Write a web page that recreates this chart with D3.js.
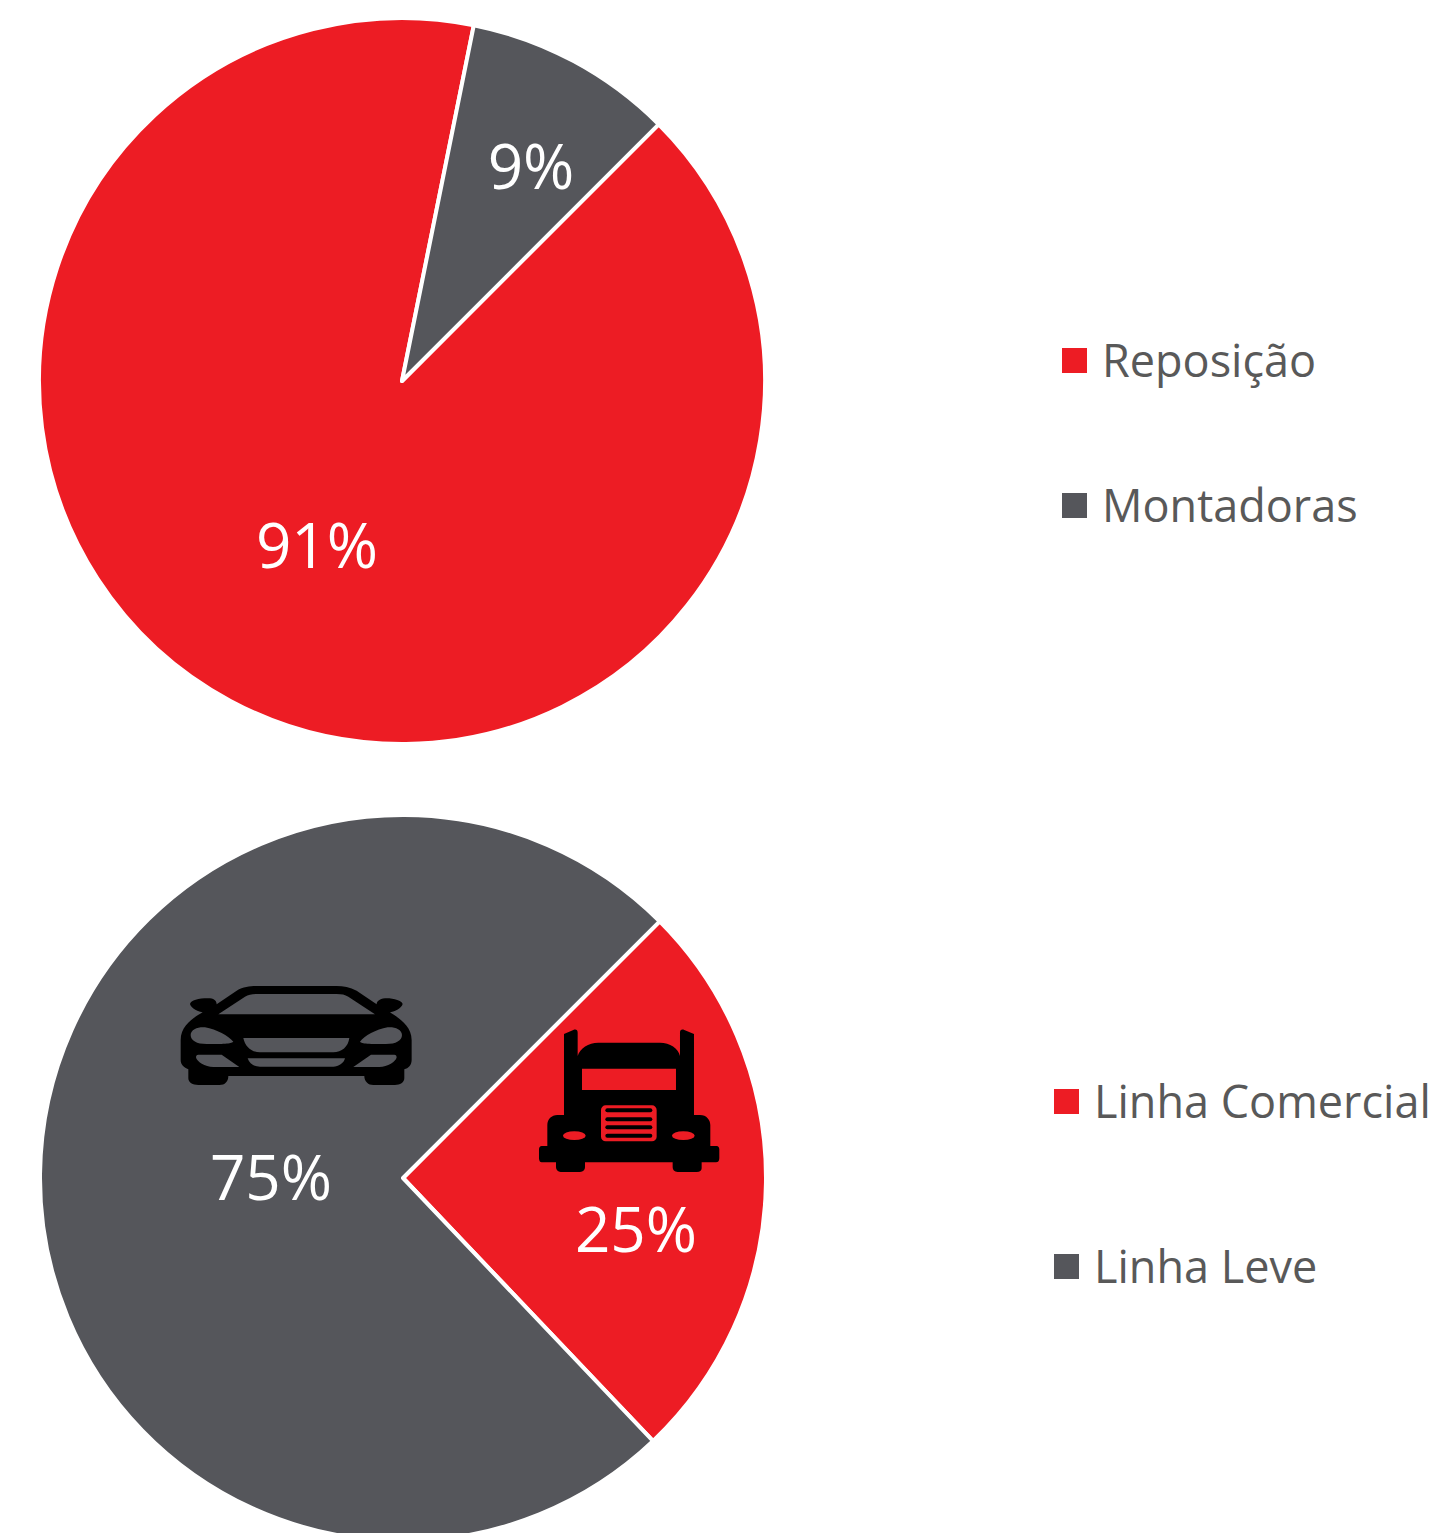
<!DOCTYPE html>
<html>
<head>
<meta charset="utf-8">
<script src="https://cdn.jsdelivr.net/npm/d3@7"></script>
<style>
    html, body { margin: 0; padding: 0; background: #fff; overflow: hidden; }
    svg { display: block; }
    text { font-family: "Open Sans", "Noto Sans", sans-serif; }
</style>
</head>
<body>
<div id="chart"></div>
<script>
const RED = "#ED1C24";
const GRAY = "#55565B";
const TEXT_GRAY = "#595959";

// top pie
const salesCategories = ["Reposição", "Montadoras"];
const salesValues = [90.67, 9.33]; // slice sizes as drawn
const salesLabels = ["91%", "9%"];

// bottom pie
const lineCategories = ["Linha Comercial", "Linha Leve"];
const lineValues = [25.4, 74.6];
const lineLabels = ["25%", "75%"];

var svg = d3.select("#chart").append("svg")
    .attr("width", 1435)
    .attr("height", 1533);

// white stroke eats 2px of this, visible radius is 361
var radius = 363;
var arc = d3.arc().innerRadius(0).outerRadius(radius);
var startAngle = Math.PI / 4;

var color = d3.scaleOrdinal().domain([0, 1]).range([RED, GRAY]);

function drawPie(values, labels, cx, cy, labelPos) {
    var pie = d3.pie().sort(null)
        .startAngle(startAngle)
        .endAngle(startAngle + 2 * Math.PI);

    var g = svg.append("g").attr("transform", "translate(" + cx + "," + cy + ")");

    g.selectAll("path")
        .data(pie(values))
        .enter()
        .append("path")
        .attr("d", arc)
        .attr("fill", (d, i) => color(i))
        .attr("stroke", "#fff")
        .attr("stroke-width", 4)
        .attr("stroke-linejoin", "round");

    g.selectAll("text")
        .data(labels)
        .enter()
        .append("text")
        .attr("x", (d, i) => labelPos[i][0] - cx)
        .attr("y", (d, i) => labelPos[i][1] - cy)
        .attr("text-anchor", "middle")
        .attr("fill", "#fff")
        .attr("font-size", 62)
        .text(d => d);
}

function drawLegend(names, x, ys) {
    var g = svg.append("g");
    var item = g.selectAll("g")
        .data(names)
        .enter()
        .append("g")
        .attr("transform", (d, i) => "translate(" + x + "," + ys[i] + ")");

    item.append("rect")
        .attr("width", 25)
        .attr("height", 25)
        .attr("fill", (d, i) => color(i));

    item.append("text")
        .attr("x", 40)
        .attr("y", 29)
        .attr("fill", TEXT_GRAY)
        .attr("font-size", 45)
        .text(d => d);
}

drawPie(salesValues, salesLabels, 402, 381, [[317, 568], [531, 189]]);
drawPie(lineValues, lineLabels, 403, 1178, [[636, 1252], [271, 1200]]);

drawLegend(salesCategories, 1062, [348, 493]);
drawLegend(lineCategories, 1054, [1089, 1254]);

// car icon
var car = svg.append("g").attr("transform", "translate(170,970) scale(0.3333)");
car.append("path")
    .attr("fill-rule", "evenodd")
    .attr("d", "M60 102C62 90 90 84 120 85C135 87 140 95 140 103L200 62C220 50 240 48 260 48L500 48C520 48 540 52 560 62L620 103C620 95 628 87 645 85C670 84 696 92 698 102C696 115 670 126 660 127C680 140 725 165 725 210L725 270C725 285 715 295 703 298L703 325C703 338 690 345 675 345L610 345C595 345 583 335 583 318L175 318C175 335 165 345 148 345L85 345C68 345 55 338 55 325L55 298C42 292 32 285 32 270L32 210C32 165 75 140 98 127C88 126 62 115 60 102Z" +
        "M145 133L225 80C235 74 245 72 260 72L500 72C515 72 525 74 535 80L615 133Z" +
        "M62 195C62 178 85 170 105 172C140 178 175 198 190 215C185 220 170 222 110 222C80 222 62 212 62 195Z" +
        "M696 195C696 178 673 170 653 172C618 178 583 198 570 215C573 220 588 222 648 222C678 222 696 212 696 195Z" +
        "M220 204L538 204C535 230 515 247 490 247L270 247C245 247 225 230 220 204Z" +
        "M233 265L525 265C522 280 505 290 490 290L270 290C250 290 238 280 233 265Z" +
        "M85 254L155 254L208 291L130 291C105 291 80 275 78 262C78 258 80 254 85 254Z" +
        "M673 254L603 254L550 291L628 291C653 291 678 275 680 262C680 258 678 254 673 254Z");

// truck icon, same way
var truck = svg.append("g").attr("transform", "translate(530,1020) scale(0.3333)");
truck.append("path")
    .attr("fill-rule", "evenodd")
    .attr("d", "M102 42L130 30C138 27 143 30 143 38L143 108C150 85 175 68 205 68L390 68C420 68 445 85 450 108L450 38C450 30 455 27 463 30L492 42L492 285L510 285C530 285 541 300 541 315L541 378L560 378C565 378 568 382 568 388L568 415C568 422 565 427 558 427L515 427L515 445C515 452 510 456 500 456L443 456C433 456 428 450 428 442L428 427L165 427L165 442C165 450 160 456 150 456L92 456C84 456 78 450 78 442L78 427L35 427C30 427 27 422 27 415L27 388C27 382 30 378 35 378L52 378L52 315C52 298 65 285 82 285L102 285Z" +
        "M156 146H438V210H156Z");
// grille: red plate with black slots on top
truck.append("rect")
    .attr("x", 213).attr("y", 256)
    .attr("width", 167).attr("height", 108)
    .attr("rx", 14)
    .attr("fill", RED);
truck.selectAll("rect.slot")
    .data([265, 292, 316, 341])
    .enter()
    .append("rect")
    .attr("class", "slot")
    .attr("x", 226).attr("y", d => d)
    .attr("width", 141).attr("height", 12)
    .attr("rx", 6)
    .attr("fill", "#000");
truck.selectAll("ellipse")
    .data([133, 460])
    .enter()
    .append("ellipse")
    .attr("cx", d => d).attr("cy", 347)
    .attr("rx", 34).attr("ry", 13)
    .attr("fill", RED);
</script>
</body>
</html>
